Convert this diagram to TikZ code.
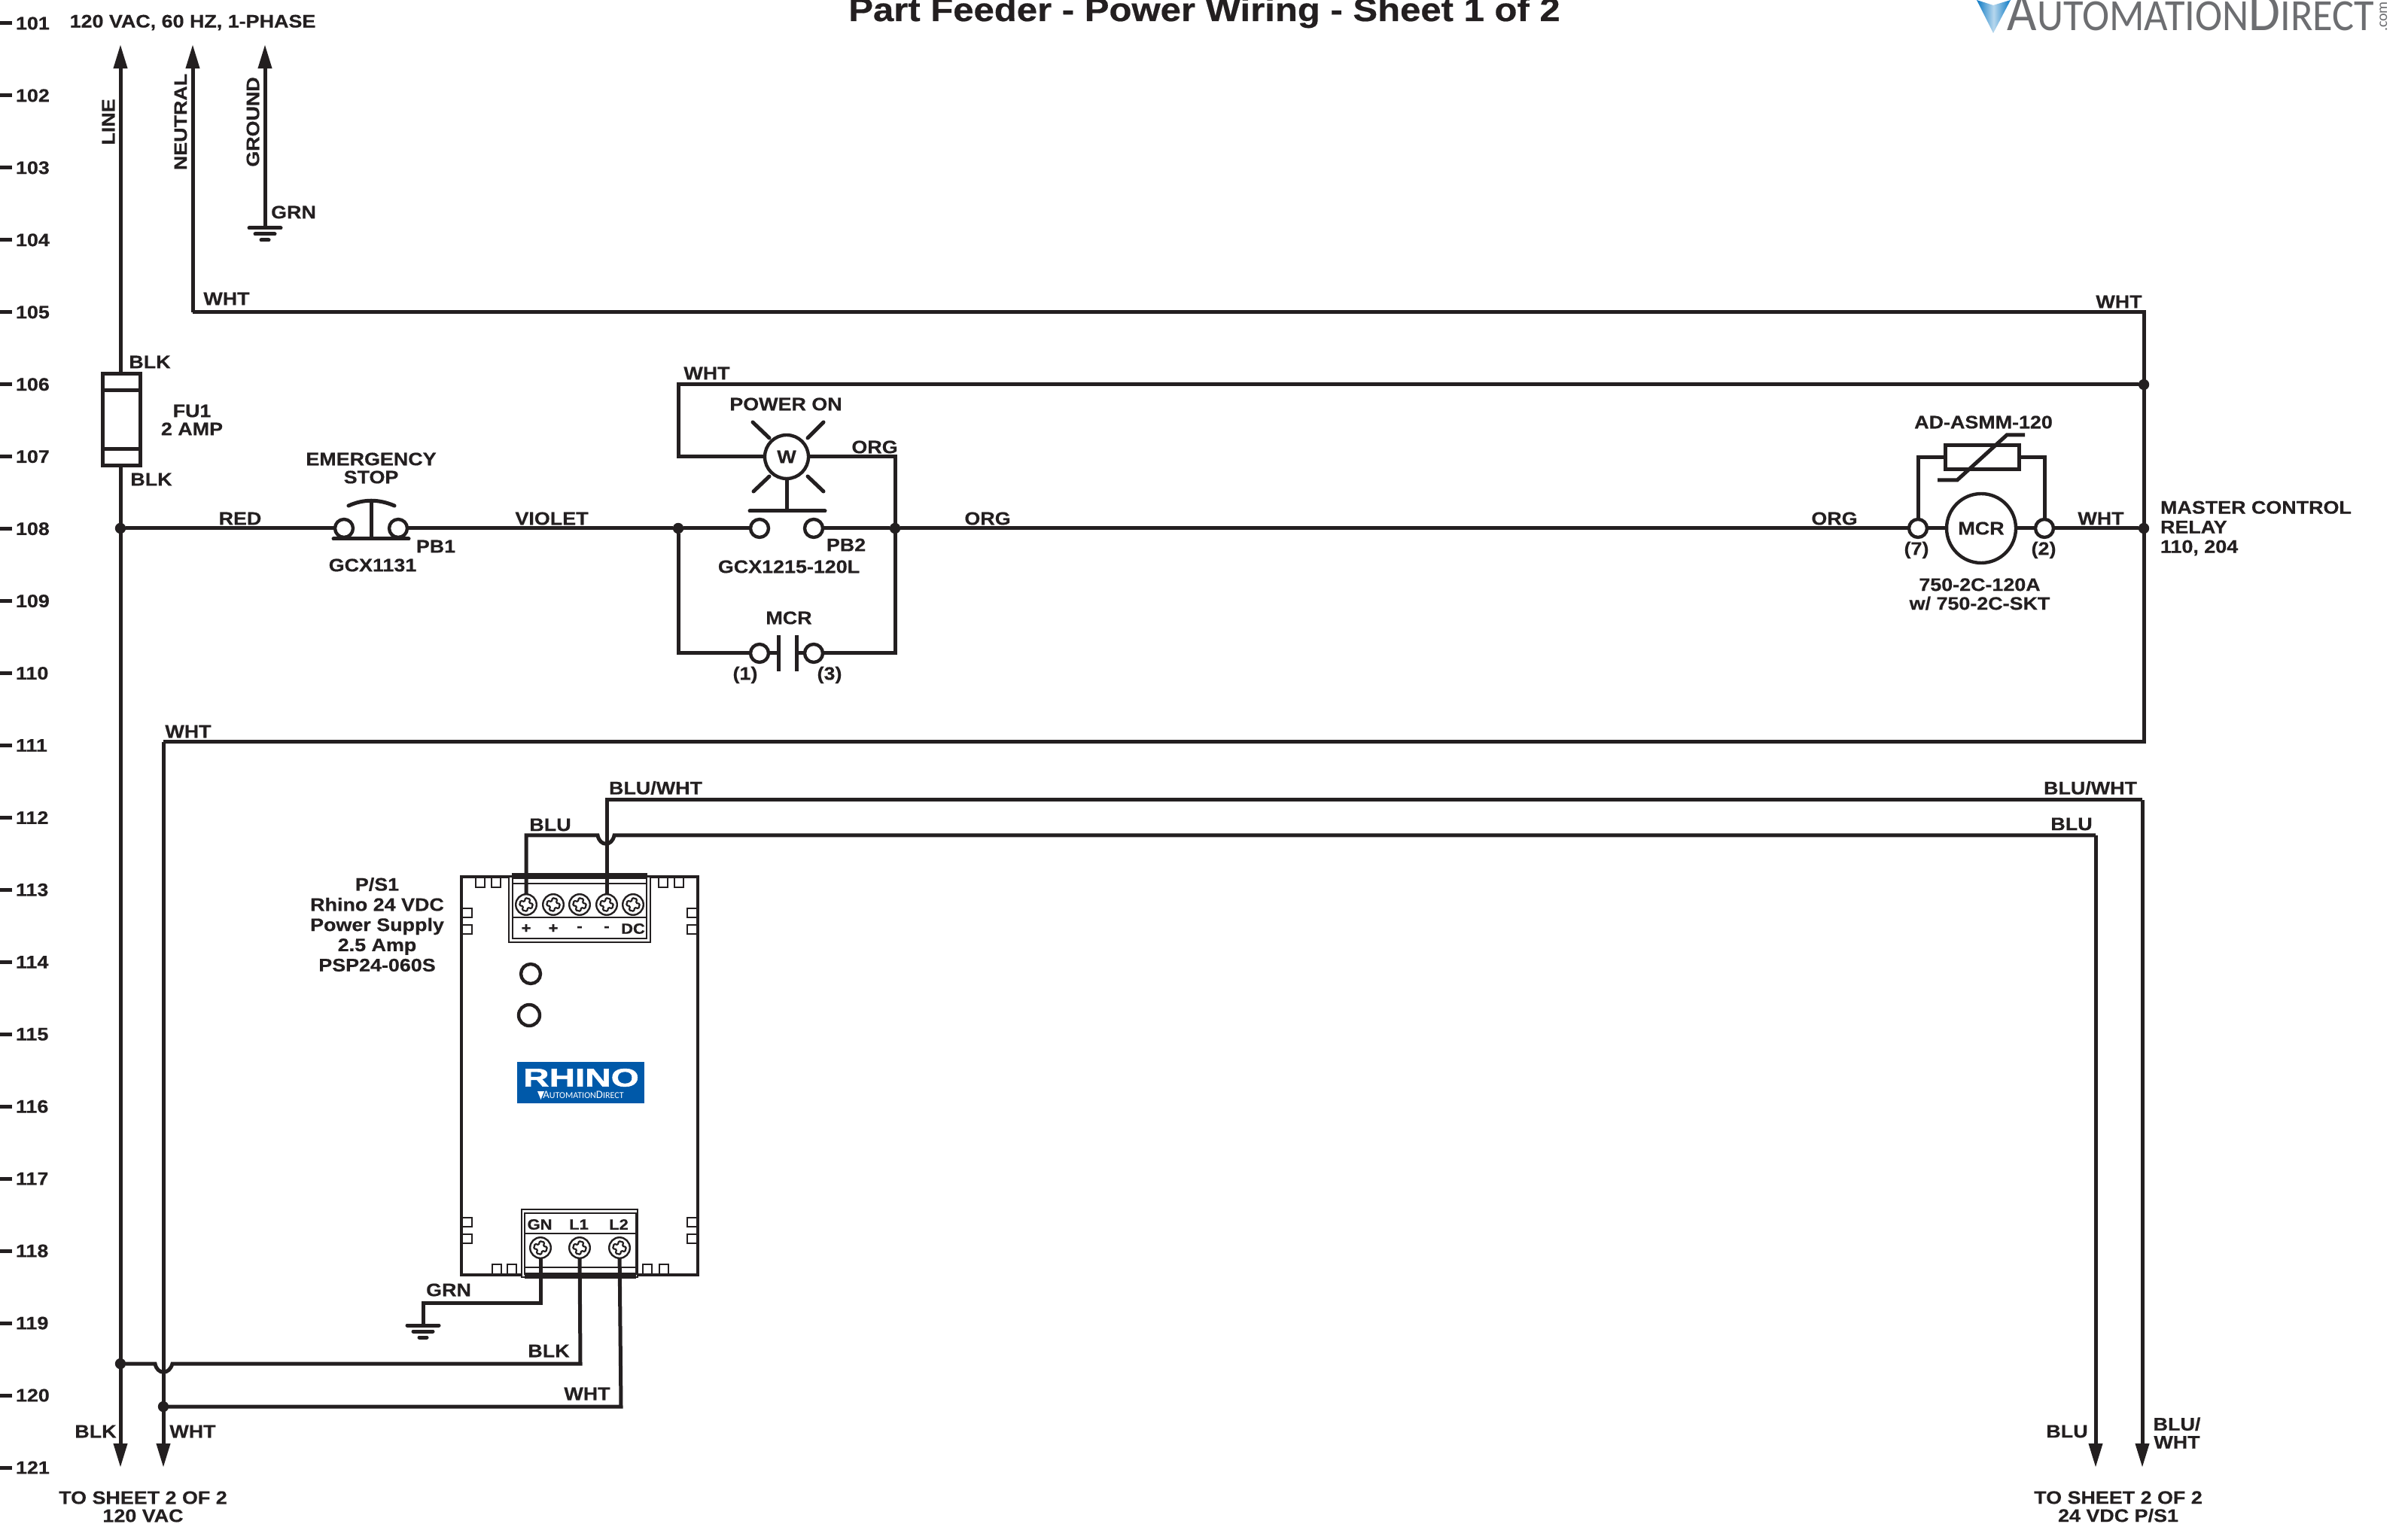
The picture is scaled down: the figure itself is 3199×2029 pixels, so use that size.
\documentclass[tikz,border=0pt]{standalone}
\usepackage{fontspec}
\setmainfont[BoldFeatures={FakeStretch=1.12,FakeBold=.5}]{Liberation Sans}
\newfontfamily\logofont{Carlito}
\newfontfamily\rhinofont[BoldFeatures={FakeStretch=1.42,FakeBold=1.6}]{Liberation Sans}
\usetikzlibrary{positioning,arrows.meta}
\definecolor{wirecol}{HTML}{231F20}
\definecolor{rhinoblue}{HTML}{0059A9}
\definecolor{logogray}{HTML}{6D6E71}
\definecolor{logoblue}{HTML}{0B79C4}
\tikzset{
  wire/.style={draw=wirecol,line width=1.25pt,line join=miter},
  feed/.style={wire,-{Triangle[length=8pt,width=4.4pt]}},
  lbl/.style={inner sep=0pt,outer sep=0pt,text=wirecol,align=center,font=\fontsize{6}{6}\selectfont\bfseries},
  small/.style={lbl,font=\fontsize{4.9}{4.9}\selectfont\bfseries},
  term/.style={circle,draw=wirecol,fill=white,line width=1.1pt,minimum size=6pt,inner sep=0pt,outer sep=0pt},
  dot/.style={circle,fill=wirecol,minimum size=3.6pt,inner sep=0pt,outer sep=0pt},
  screw/.style={circle,draw=wirecol,fill=white,line width=.6pt,minimum size=6.9pt,inner sep=0pt,outer sep=0pt},
  tab/.style={draw=wirecol,fill=white,line width=.6pt},
  box/.style={draw=wirecol,line width=.7pt}
}
% cross head of a terminal screw
\newcommand{\screwhead}[1]{
  \begin{scope}[shift={(#1)},rotate=-15]
    \draw[wirecol,line width=.55pt,rounded corners=.3pt]
      (-2.1pt,-.8pt) -- ++(1.3pt,0) -- ++(0,-1.3pt) -- ++(1.6pt,0) -- ++(0,1.3pt) -- ++(1.3pt,0)
      -- ++(0,1.6pt) -- ++(-1.3pt,0) -- ++(0,1.3pt) -- ++(-1.6pt,0) -- ++(0,-1.3pt) -- ++(-1.3pt,0) -- cycle;
  \end{scope}
}
% company name with its two large capitals
\newcommand{\adname}[2]{\fontsize{#1}{#1}\selectfont A\fontsize{#2}{#2}\selectfont UTOMATION\fontsize{#1}{#1}\selectfont D\fontsize{#2}{#2}\selectfont IRECT}
\begin{document}
\begin{tikzpicture}[x=0.25pt,y=-0.25pt]
  \useasboundingbox (0,0) rectangle (3199,2029);
  \fill[white] (0,0) rectangle (3199,2029);

  % rung numbers
  \foreach \n [evaluate=\n as \ypos using {31+95.95*(\n-101)}] in {101,...,121}{
    \draw[wirecol,line width=1.25pt] (0,\ypos) -- (16,\ypos);
    \node[lbl,anchor=west] (rung\n) at (21,\ypos) {\n};
  }

  % title and logo
  \node[lbl,anchor=base,font=\fontsize{10.95}{10.95}\selectfont\bfseries] (title) at (1600,28) {Part Feeder - Power Wiring - Sheet 1 of 2};
  \shade[left color=logoblue,right color=logoblue,middle color=white!70!logoblue]
    (2626,0) -- (2648,7) -- (2671,0) -- (2648,44) -- cycle;
  \node[anchor=base west,inner sep=0pt,text=logogray,font=\logofont] (logo) at (2666,41)
    {\scalebox{.92}[1]{\adname{18.5}{14.8}}};
  \node[anchor=base,inner sep=0pt,text=logogray,font=\logofont\fontsize{5}{5}\selectfont,rotate=90] (logocom) at (3171,22) {.com};

  % connection points
  \coordinate (lineTop) at (160,59);
  \coordinate (lineBot) at (160,1950);
  \coordinate (neuTop) at (256,59);
  \coordinate (neuCor) at (256,415);
  \coordinate (gndTop) at (352,59);
  \coordinate (gndBot) at (352,303);
  \coordinate (neuEnd) at (2848,415);
  \coordinate (retLow) at (2848,986);
  \coordinate (retCor) at (217,986);
  \coordinate (retBot) at (217,1950);
  \coordinate (lampCor) at (901,511);
  \coordinate (lampLow) at (901,607);
  \coordinate (orgCor) at (1189,607);
  \coordinate (sealLow) at (901,868);
  \coordinate (sealCor) at (1189,868);
  \coordinate (bluCor) at (699,1110);
  \coordinate (bluEnd) at (2784,1110);
  \coordinate (bluBot) at (2784,1950);
  \coordinate (bwCor) at (806,1063);
  \coordinate (bwEnd) at (2846,1063);
  \coordinate (bwBot) at (2846,1950);
  \coordinate (grnCor) at (718,1731);
  \coordinate (grnLeft) at (562,1731);
  \coordinate (grnBot) at (562,1761);
  \coordinate (blkCor) at (771,1812);
  \coordinate (whtCor) at (825,1869);

  % fuse (over the feed wires it interrupts)
  \draw[feed] (neuCor) -- (neuTop);
  \draw[feed] (gndBot) -- (gndTop);
  \draw[feed] (160,702) -- (lineTop);
  \draw[feed] (160,702) -- (lineBot);
  \draw[feed] (retCor) -- (retBot);
  \draw[wire,fill=white] (136,497) rectangle (186,619);
  \draw[wire] (136,519) -- (186,519) (136,597) -- (186,597);

  % junctions
  \node[dot] (j108) at (160,702) {};
  \node[dot] (j108b) at (901,702) {};
  \node[dot] (j108c) at (1189,702) {};
  \node[dot] (j106r) at (2848,511) {};
  \node[dot] (j108r) at (2848,702) {};
  \node[dot] (j119) at (160,1812) {};
  \node[dot] (j120) at (217,1869) {};

  % emergency stop
  \node[term] (pbaL) at (457,702) {};
  \node[term] (pbaR) at (529,702) {};
  \coordinate (pbaBarL) at (443,716);
  \coordinate (pbaBarR) at (543,716);
  \coordinate (pbaBarM) at (493,716);
  \coordinate (pbaTop) at (493,666);
  \draw[wire,line cap=round] (pbaBarL) -- (pbaBarR);
  \draw[wire] (pbaBarM) -- (pbaTop);
  \draw[wire,line cap=round] (463,672) .. controls (483,663) and (503,663) .. (524,672);

  % power on pushbutton and lamp
  \node[term] (pbbL) at (1009,702) {};
  \node[term] (pbbR) at (1081,702) {};
  \node[term,minimum size=14.5pt,font=\fontsize{6}{6}\selectfont\bfseries,text=wirecol] (lamp) at (1045,607) {W};
  \coordinate (pbbBarL) at (996,679);
  \coordinate (pbbBarR) at (1096,679);
  \coordinate (pbbBarM) at (1045,679);
  \draw[wire,line cap=round] (pbbBarL) -- (pbbBarR);
  \draw[wire] (pbbBarM) -- (lamp);
  \draw[wire,line cap=round] (1000,561) -- (1022,582) (1094,561) -- (1073,582)
    (1022,633) -- (1001,653) (1073,633) -- (1094,653);

  % seal-in contact
  \node[term] (mcrL) at (1009,868) {};
  \node[term] (mcrR) at (1081,868) {};
  \coordinate (plateL) at (1034,868);
  \coordinate (plateR) at (1058,868);
  \draw[wire] (1034,844) -- (1034,892) (1058,844) -- (1058,892);
  \draw[wire] (mcrL) -- (plateL) (plateR) -- (mcrR);

  % relay coil and suppressor
  \node[term] (coilL) at (2548,702) {};
  \node[term] (coilR) at (2716,702) {};
  \node[term,minimum size=23pt,font=\fontsize{6}{6}\selectfont\bfseries,text=wirecol] (coil) at (2632,702) {MCR};
  \node[draw=wirecol,line width=1.25pt,minimum width=24.5pt,minimum height=8.2pt,inner sep=0pt,outer sep=0pt] (mov) at (2633,607.5) {};
  \draw[wire] (coilL) -- (coil) (coil) -- (coilR);
  \draw[wire] (coilL) |- (mov) (coilR) |- (mov);
  \draw[wire] (2574,638) -- (2600,638) -- (2666,578) -- (2690,578);

  % ladder wires
  \draw[wire] (j108) -- (pbaL) (pbaR) -- (j108b) -- (pbbL) (pbbR) -- (j108c) -- (coilL) (coilR) -- (j108r);
  \draw[wire] (neuCor) -- (neuEnd) -- (retLow) -- (retCor);
  \draw[wire] (j106r) -- (lampCor) -- (lampLow) -- (lamp);
  \draw[wire] (lamp) -- (orgCor) -- (sealCor) -- (mcrR);
  \draw[wire] (j108b) -- (sealLow) -- (mcrL);

  % grounds
  \foreach \gx/\gy in {352/303,562/1761}{
    \draw[wire,line cap=round] (\gx-21,\gy) -- (\gx+21,\gy);
    \draw[wire,line cap=round] (\gx-13,\gy+8) -- (\gx+13,\gy+8);
    \draw[wire,line cap=round] (\gx-5,\gy+16) -- (\gx+5,\gy+16);
  }

  % power supply body
  \draw[draw=wirecol,line width=1.2pt] (613,1165) rectangle (927,1694);
  \foreach \tx in {632,653,875,896}{\draw[tab] (\tx,1166) rectangle ++(12,13);}
  \foreach \tx in {654,674,854,876}{\draw[tab] (\tx,1680) rectangle ++(12,13);}
  \foreach \ty in {1207,1229,1618,1640}{
    \draw[tab] (614,\ty) rectangle (627,\ty+12);
    \draw[tab] (913,\ty) rectangle (926,\ty+12);
  }

  % dc terminal block
  \draw[box,fill=white] (676,1165) rectangle (864,1252);
  \draw[box] (681,1165) rectangle (859,1247);
  \draw[box] (681,1174) -- (859,1174) (681,1219) -- (859,1219);
  \draw[draw=wirecol,line width=1.8pt] (680,1164) -- (860,1164);
  \foreach \s/\sx/\st in {a/699/+,b/735/+,c/770/-,d/806/-,e/841/DC}{
    \node[screw] (dc\s) at (\sx,1202) {};
    \screwhead{dc\s}
    \node[small] (dcl\s) at (\sx,1234) {\st};
  }

  % ac terminal block
  \draw[box,fill=white] (693,1607) rectangle (847,1697);
  \draw[box] (697,1612) rectangle (845,1693);
  \draw[box] (697,1639) -- (845,1639) (697,1684) -- (845,1684);
  \draw[draw=wirecol,line width=1.8pt] (697,1695) -- (845,1695);
  \foreach \s/\sx/\st in {a/718/GN,b/770/L1,c/823/L2}{
    \node[screw] (ac\s) at (\sx,1658) {};
    \screwhead{ac\s}
    \node[small] (acl\s) at (\sx-1,1627) {\st};
  }

  % leds and badge
  \node[term,minimum size=6.5pt] (ledA) at (705,1294) {};
  \node[term,minimum size=7pt] (ledB) at (703,1349) {};
  \node[fill=rhinoblue,minimum width=42.2pt,minimum height=13.8pt,inner sep=0pt,outer sep=0pt] (badge) at (771.5,1438.5) {};
  \node[text=white,inner sep=0pt,font=\rhinofont\fontsize{8.4}{8.4}\selectfont\bfseries] (badgeTop) at (772,1432) {RHINO};
  \fill[white] (714,1450) -- (723,1450) -- (718.5,1461) -- cycle;
  \node[text=white,inner sep=0pt,font=\logofont] (badgeLow) at (775,1455) {\adname{3.7}{3}};

  % supply wires with hops
  \draw[wire] (dca) -- (bluCor) -- (794,1110) .. controls (797,1125) and (813,1125) .. (816,1110) -- (bluEnd);
  \draw[feed] (bluEnd) -- (bluBot);
  \draw[wire] (dcd) -- (bwCor) -- (bwEnd);
  \draw[feed] (bwEnd) -- (bwBot);
  \draw[wire] (aca) -- (grnCor) -- (grnLeft) -- (grnBot);
  \draw[wire] (j119) -- (206,1812) .. controls (209,1827) and (225,1827) .. (229,1812) -- (blkCor) -- (acb);
  \draw[wire] (j120) -- (whtCor) -- (acc);

  % labels
  \node[lbl] (supply) at (256,30) {120 VAC, 60 HZ, 1-PHASE};
  \node[lbl,rotate=90] (tagLine) at (144,162) {LINE};
  \node[lbl,rotate=90] (tagNeutral) at (240,162) {NEUTRAL};
  \node[lbl,rotate=90] (tagGround) at (336,162) {GROUND};
  \node[lbl] (tagGrnA) at (390,282) {GRN};
  \node[lbl] (tagWhtA) at (301,397) {WHT};
  \node[lbl] (tagWhtB) at (2815,401) {WHT};
  \node[lbl] (tagBlkA) at (199,481) {BLK};
  \node[lbl] (tagBlkB) at (201,637) {BLK};
  \node[lbl] (fuse) at (255,558) {FU1\\2 AMP};
  \node[lbl] (estop) at (493,622) {EMERGENCY\\STOP};
  \node[lbl] (tagRed) at (319,689) {RED};
  \node[lbl] (tagViolet) at (733,689) {VIOLET};
  \node[lbl] (tagPba) at (579,726) {PB1};
  \node[lbl] (partPba) at (495,751) {GCX1131};
  \node[lbl] (tagWhtC) at (939,496) {WHT};
  \node[lbl] (tagLamp) at (1044,537) {POWER ON};
  \node[lbl] (tagOrgA) at (1162,594) {ORG};
  \node[lbl] (tagPbb) at (1124,724) {PB2};
  \node[lbl] (partPbb) at (1048,753) {GCX1215-120L};
  \node[lbl] (tagMcr) at (1048,821) {MCR};
  \node[lbl] (pinA) at (990,897) {(1)};
  \node[lbl] (pinB) at (1102,897) {(3)};
  \node[lbl] (tagOrgB) at (1312,689) {ORG};
  \node[lbl] (tagOrgC) at (2437,689) {ORG};
  \node[lbl] (tagWhtD) at (2791,689) {WHT};
  \node[lbl,anchor=west,align=left] (relay) at (2870,702) {MASTER CONTROL\\[.5pt]RELAY\\[.5pt]110, 204};
  \node[lbl] (partMov) at (2635,561) {AD-ASMM-120};
  \node[lbl] (pinC) at (2546,731) {(7)};
  \node[lbl] (pinD) at (2715,731) {(2)};
  \node[lbl] (partCoil) at (2630,789.5) {750-2C-120A\\[.25pt]w/ 750-2C-SKT};
  \node[lbl] (tagWhtE) at (250,972) {WHT};
  \node[lbl] (tagBw) at (871,1047) {BLU/WHT};
  \node[lbl] (tagBlu) at (731,1096) {BLU};
  \node[lbl] (tagBwR) at (2777,1047) {BLU/WHT};
  \node[lbl] (tagBluR) at (2752,1095) {BLU};
  \node[lbl] (psu) at (501,1228.5) {P/S1\\[.7pt]Rhino 24 VDC\\[.7pt]Power Supply\\[.7pt]2.5 Amp\\[.7pt]PSP24-060S};
  \node[lbl] (tagGrnB) at (596,1714) {GRN};
  \node[lbl] (tagBlkC) at (729,1795) {BLK};
  \node[lbl] (tagWhtF) at (780,1852) {WHT};
  \node[lbl] (tagBlkD) at (127,1902) {BLK};
  \node[lbl] (tagWhtG) at (256,1902) {WHT};
  \node[lbl] (tagBluB) at (2746,1902) {BLU};
  \node[lbl] (tagBwB) at (2892,1904) {BLU/\\WHT};
  \node[lbl] (toAc) at (190,2002) {TO SHEET 2 OF 2\\120 VAC};
  \node[lbl] (toDc) at (2814,2002) {TO SHEET 2 OF 2\\24 VDC P/S1};
\end{tikzpicture}
\end{document}
